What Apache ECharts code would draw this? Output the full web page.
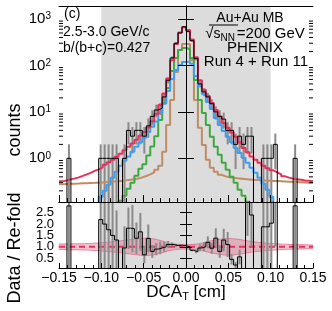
<!DOCTYPE html>
<html><head><meta charset="utf-8">
<script src="https://cdn.jsdelivr.net/npm/echarts@6/dist/echarts.min.js"></script>
<style>html,body{margin:0;padding:0;background:#fff}#c{width:332px;height:311px}</style>
</head><body><div id="c"></div>
<script>
// ---- binning ----
const DCA_MIN = -0.15, DCA_MAX = 0.15, N_BINS = 64;
// ---- data histogram (counts per bin) ----
const dataCounts = [0,0,1,0,0,0,0,0,0,0, 1,1,1,1,1,0,1,4,3,4, 4,3,5,8,11,12,21,48,145,300,
  500,680,540,340,140,40,27,21,15,10, 8,7,4,4,2,3,2,3,3,0, 0,1,1,1,2,0,0,0,0,1, 0,0,0,0];
// ---- re-folded total (red) ----
const fitTotal = [0.320,0.336,0.353,0.371,0.390,0.420,0.453,0.488,0.538,0.580,
  0.640,0.725,0.820,0.928,1.077,1.25,1.49,1.77,2.10,2.50,
  3.05,3.71,4.64,6.3,9.0,14,25,52,130,290,
  510,660,580,360,150,48,30,22,15.6,11.0,
  8.0,5.80,4.53,3.62,2.90,2.21,1.68,1.35,1.10,0.93,
  0.80,0.69,0.61,0.552,0.500,0.453,0.410,0.385,0.366,0.353,
  0.345,0.335,0.328,0.320];
// ---- b component (blue) ----
const fitB = [null,null,null,null,null,null,null,null,null,0.105,
  0.149,0.200,0.269,0.381,0.512,0.690,0.884,1.10,1.38,1.77,
  2.21,2.76,3.71,4.76,6.2,9.5,15,28.3,51.3,80.0,
  102,119,121,108,59.5,36.2,24.4,16.4,11.6,7.43,
  5.25,3.90,2.90,2.26,1.68,1.31,1.03,0.80,0.625,0.488,
  0.381,0.283,0.210,0.149,0.105,null,null,null,null,null,
  null,null,null,null];
// ---- c component (green) ----
const fitC = [null,null,null,null,null,null,null,null,null,null,
  null,null,null,null,0.09,0.122,0.156,0.221,0.297,0.42,
  0.595,0.75,1.15,1.8,3.0,6.73,15.6,32.8,76.2,145,
  215,238,226,145,48.7,18.1,9.5,5.25,2.9,1.77,
  1.19,0.80,0.566,0.40,0.297,0.21,0.156,0.116,0.086,null,
  null,null,null,null,null,null,null,null,null,null,
  null,null,null,null];
// ---- other component (brown) ----
const fitOther = [0.276,0.280,0.283,0.285,0.287,0.290,0.292,0.295,0.297,0.300,
  0.304,0.308,0.312,0.317,0.322,0.328,0.336,0.345,0.356,0.370,
  0.390,0.418,0.453,0.500,0.566,0.690,1.38,5.25,18.1,72.4,
  215,290,290,131,18.1,4.53,1.95,0.928,0.625,0.512,
  0.442,0.410,0.390,0.380,0.371,0.365,0.358,0.352,0.345,0.341,
  0.337,0.333,0.330,0.327,0.324,0.321,0.318,0.315,0.312,0.308,
  0.305,0.302,0.299,0.297];
// ---- Data / Re-fold ratio ----
const ratioVals = [0,0,2.8,0,0,0,0,0,0,0, 2.2,2.0,1.75,1.5,1.3,0,0.95,1.82,1.8,1.38,
  1.66,0.65,1.37,0.8,0.9,0.95,1.0,1.1,1.1,1.06, 1.07,1.05,1.0,0.85,0.78,0.95,1.0,1.2,0.94,1.38,
  0.8,1.3,1.1,0.45,0.2,0.56,0,3.5,2.4,0, 0,1.88,1.88,2.04,3.5,0,0,0,0,2.8, 0,0,0,0];
// ---- systematic band around 1 ----
const bandX = [-0.15,-0.12,-0.10,-0.08,-0.065,-0.05,-0.04,-0.03,-0.02,-0.01,0,0.01,0.02,0.03,0.04,0.05,0.06,0.07,0.08,0.10,0.12,0.15];
const bandHalf = [0.12,0.14,0.18,0.25,0.32,0.38,0.36,0.28,0.17,0.11,0.10,0.11,0.17,0.27,0.33,0.37,0.34,0.28,0.22,0.15,0.11,0.08];
// ---- decorations ----
const shadeRange = [-0.10, 0.10];
const logMinorTicks = [0.2,0.3,0.4,0.5,0.6,0.7,0.8,0.9,2,3,4,5,6,7,8,9,20,30,40,50,60,70,80,90,200,300,400,500,600,700,800,900];

const W = (DCA_MAX - DCA_MIN) / N_BINS;
const edge = k => DCA_MIN + k * W;
const center = k => DCA_MIN + (k + 0.5) * W;
const FLOOR = 1e-4;
function steps(vals, floor) {
  const out = [];
  vals.forEach((v, k) => { const y = (v == null || v <= 0) ? floor : v; out.push([edge(k), y], [edge(k + 1), y]); });
  return out;
}
const FONT = '"Liberation Sans", Arial, Helvetica, sans-serif';
const RED = '#e5305a', BLUE = '#3d9ef0', GREEN = '#3fa83f', BROWN = '#c08c64', SHADE = '#dcdcdc', ERR = '#8a8a8a';

const dataErr = [];
dataCounts.forEach((n, k) => { if (n > 0) dataErr.push([center(k), Math.max(n - Math.sqrt(n), FLOOR), n + Math.sqrt(n)]); });
const ratioErr = [];
ratioVals.forEach((r, k) => { const n = dataCounts[k]; if (r > 0 && n > 0) ratioErr.push([center(k), r - r / Math.sqrt(n), r + r / Math.sqrt(n)]); });
const bandData = bandX.map((x, i) => [x, 1 - bandHalf[i], 1 + bandHalf[i]]);

function errRender(params, api) {
  const cs = params.coordSys;
  const x = api.value(0);
  const p1 = api.coord([x, api.value(1)]);
  const p2 = api.coord([x, api.value(2)]);
  const clamp = y => Math.max(cs.y, Math.min(cs.y + cs.height, y));
  return { type: 'line', shape: { x1: p1[0], y1: clamp(p1[1]), x2: p2[0], y2: clamp(p2[1]) }, style: { stroke: ERR, lineWidth: 2 } };
}
function bandRender(params, api) {
  if (params.dataIndex !== 0) return null;
  const up = bandData.map(d => api.coord([d[0], d[2]]));
  const lo = bandData.map(d => api.coord([d[0], d[1]]));
  const stroke = 'rgba(215,90,120,0.65)';
  return { type: 'group', children: [
    { type: 'polygon', shape: { points: up.concat(lo.slice().reverse()), smooth: 0.25 }, style: { fill: 'rgba(228,110,140,0.42)' } },
    { type: 'polyline', shape: { points: up, smooth: 0.25 }, style: { stroke: stroke, lineWidth: 1, fill: null } },
    { type: 'polyline', shape: { points: lo, smooth: 0.25 }, style: { stroke: stroke, lineWidth: 1, fill: null } }
  ] };
}
function minorTickRender(params, api) {
  const v = api.value(1);
  const pl = api.coord([DCA_MIN, v]);
  const pr = api.coord([DCA_MAX, v]);
  return { type: 'group', children: [
    { type: 'line', shape: { x1: pl[0], y1: pl[1], x2: pl[0] + 4, y2: pl[1] }, style: { stroke: '#000', lineWidth: 1 } },
    { type: 'line', shape: { x1: pr[0], y1: pr[1], x2: pr[0] - 4, y2: pr[1] }, style: { stroke: '#000', lineWidth: 1 } }
  ] };
}

const axisLineBlack = { show: true, lineStyle: { color: '#000', width: 1 } };
function xAx(grid, pos, labels) {
  return { type: 'value', gridIndex: grid, position: pos, min: DCA_MIN, max: DCA_MAX, interval: 0.05, z: 10,
    axisLine: axisLineBlack, splitLine: { show: false },
    axisTick: { show: pos === 'bottom', inside: true, length: grid === 0 ? 7 : 5, lineStyle: { color: '#000' } },
    minorTick: { show: pos === 'bottom', splitNumber: 5, length: grid === 0 ? 4 : 3, lineStyle: { color: '#000' } },
    axisLabel: { show: labels, margin: 3, fontSize: 14, fontFamily: FONT, color: '#000', showMinLabel: true, showMaxLabel: true, hideOverlap: false,
      formatter: v => (v < -1e-9 ? '\u2212' : '') + Math.abs(v).toFixed(2) } };
}
const logLabel = v => { const e = Math.log10(v); return Math.abs(e - Math.round(e)) < 1e-6 ? '10{s|' + Math.round(e) + '}' : ''; };
const T = (x, y, text, size, align, extra, rot) => ({ type: 'text', x: x, y: y, z: 100, rotation: rot || 0,
  style: Object.assign({ text: text, fontSize: size, fontFamily: FONT, fill: '#000', align: align, verticalAlign: 'middle' }, extra || {}) });

const option = {
  animation: false,
  backgroundColor: '#fff',
  grid: [
    { left: 59, top: 6, width: 254, height: 196, outerBoundsMode: 'none', containLabel: false },
    { left: 59, top: 202, width: 254, height: 66, outerBoundsMode: 'none', containLabel: false }
  ],
  xAxis: [ xAx(0, 'bottom', false), xAx(1, 'bottom', true), xAx(0, 'top', false), xAx(1, 'top', false) ],
  yAxis: [
    { type: 'log', gridIndex: 0, position: 'left', min: 0.115, max: 1900, logBase: 10, z: 10,
      axisLine: axisLineBlack, splitLine: { show: false },
      axisTick: { show: true, inside: true, length: 8, lineStyle: { color: '#000' } },
      axisLabel: { margin: 8, fontSize: 15, fontFamily: FONT, color: '#000', formatter: logLabel, hideOverlap: false, showMinLabel: false, showMaxLabel: false,
        rich: { s: { fontSize: 10, fontFamily: FONT, verticalAlign: 'top', lineHeight: 10, padding: [0, 0, 6, 0] } } } },
    { type: 'log', gridIndex: 0, position: 'right', min: 0.115, max: 1900, logBase: 10, z: 10,
      axisLine: axisLineBlack, splitLine: { show: false },
      axisTick: { show: true, inside: true, length: 8, lineStyle: { color: '#000' } }, axisLabel: { show: false } },
    { type: 'value', gridIndex: 1, position: 'left', min: 0.07, max: 2.97, z: 10,
      axisLine: axisLineBlack, splitLine: { show: false },
      axisTick: { show: true, inside: true, length: 6, lineStyle: { color: '#000' } },
      axisLabel: { margin: 5, fontSize: 13, fontFamily: FONT, color: '#000', hideOverlap: false, showMinLabel: false, showMaxLabel: false,
        formatter: v => (Math.abs(v * 2 - Math.round(v * 2)) < 1e-6 ? v.toFixed(1) : '') } },
    { type: 'value', gridIndex: 1, position: 'right', min: 0.07, max: 2.97, z: 10,
      axisLine: axisLineBlack, splitLine: { show: false },
      axisTick: { show: true, inside: true, length: 6, lineStyle: { color: '#000' } }, axisLabel: { show: false } }
  ],
  series: [
    { type: 'line', xAxisIndex: 0, yAxisIndex: 0, data: [[0, 1]], showSymbol: false, lineStyle: { opacity: 0 }, z: 1, silent: true,
      markArea: { silent: true, itemStyle: { color: SHADE }, data: [[{ xAxis: shadeRange[0] }, { xAxis: shadeRange[1] }]] } },
    { type: 'line', xAxisIndex: 1, yAxisIndex: 2, data: [[0, 1]], showSymbol: false, lineStyle: { opacity: 0 }, z: 1, silent: true,
      markArea: { silent: true, itemStyle: { color: SHADE }, data: [[{ xAxis: shadeRange[0] }, { xAxis: shadeRange[1] }]] } },
    { type: 'custom', xAxisIndex: 0, yAxisIndex: 0, data: logMinorTicks.map(v => [DCA_MIN, v]), renderItem: minorTickRender, z: 12, silent: true },
    { type: 'custom', xAxisIndex: 0, yAxisIndex: 0, data: dataErr, encode: { x: 0, y: [1, 2] }, renderItem: errRender, z: 3, silent: true },
    { type: 'line', xAxisIndex: 0, yAxisIndex: 0, data: steps(fitOther, FLOOR), showSymbol: false, lineStyle: { color: BROWN, width: 2 }, z: 4 },
    { type: 'line', xAxisIndex: 0, yAxisIndex: 0, data: steps(fitC, FLOOR), showSymbol: false, lineStyle: { color: GREEN, width: 2 }, z: 5 },
    { type: 'line', xAxisIndex: 0, yAxisIndex: 0, data: steps(fitB, FLOOR), showSymbol: false, lineStyle: { color: BLUE, width: 2 }, z: 6 },
    { type: 'line', xAxisIndex: 0, yAxisIndex: 0, data: steps(fitTotal, FLOOR), showSymbol: false, lineStyle: { color: RED, width: 2 }, z: 7 },
    { type: 'line', xAxisIndex: 0, yAxisIndex: 0, data: steps(dataCounts, FLOOR), showSymbol: false, lineStyle: { color: '#000', width: 1 }, z: 8 },
    { type: 'custom', xAxisIndex: 1, yAxisIndex: 2, data: bandData, encode: { x: 0, y: [1, 2] }, renderItem: bandRender, z: 3, silent: true },
    { type: 'line', xAxisIndex: 1, yAxisIndex: 2, data: [[DCA_MIN, 1], [DCA_MAX, 1]], showSymbol: false, lineStyle: { color: RED, width: 2, type: [6, 4] }, z: 4 },
    { type: 'custom', xAxisIndex: 1, yAxisIndex: 2, data: ratioErr, encode: { x: 0, y: [1, 2] }, renderItem: errRender, z: 5, silent: true },
    { type: 'line', xAxisIndex: 1, yAxisIndex: 2, data: steps(ratioVals, -1), showSymbol: false, lineStyle: { color: '#000', width: 1 }, z: 6 }
  ],
  graphic: [
    T(15, 130, 'counts', 18, 'center', null, Math.PI / 2),
    T(15, 248, 'Data / Re-fold', 18, 'center', null, Math.PI / 2),
    T(186, 292, 'DCA{t|T} [cm]', 17, 'center', { lineHeight: 20, rich: { t: { fontSize: 11, fontFamily: FONT, verticalAlign: 'bottom', lineHeight: 11 } } }),
    T(64, 14, '(c)', 14, 'left'),
    T(63, 32, '2.5-3.0 GeV/c', 14, 'left'),
    T(63, 48, 'b/(b+c)=0.427', 14, 'left'),
    T(250, 18, 'Au+Au MB', 14, 'center'),
    T(255, 34, '\u221A{s|s}{n|NN}=200 GeV', 15, 'center', { lineHeight: 18,
      rich: { s: { fontSize: 14, fontFamily: FONT }, n: { fontSize: 10, fontFamily: FONT, verticalAlign: 'bottom', lineHeight: 12, padding: [0, 2, 0, 0] } } }),
    { type: 'line', z: 100, shape: { x1: 209, y1: 25, x2: 238, y2: 25 }, style: { stroke: '#000', lineWidth: 1 } },
    T(255, 48, 'PHENIX', 15, 'center'),
    T(256, 62, 'Run 4 + Run 11', 15, 'center')
  ]
};
const chart = echarts.init(document.getElementById('c'), null, { renderer: 'canvas' });
chart.setOption(option);
</script></body></html>
